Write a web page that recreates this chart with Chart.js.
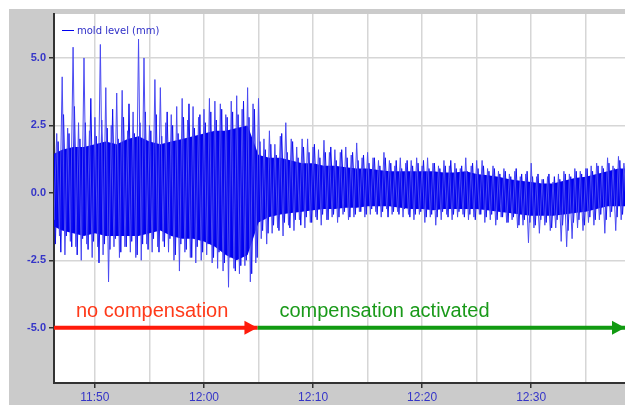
<!DOCTYPE html>
<html>
<head>
<meta charset="utf-8">
<script src="https://cdn.jsdelivr.net/npm/chart.js@4.4.0/dist/chart.umd.min.js"></script>
<style>
  html, body { margin: 0; padding: 0; background: #fff; }
  #wrap { position: absolute; left: 9px; top: 9px; width: 616px; height: 396px; background: #cbcbcb; }
  canvas { display: block; }
</style>
</head>
<body>
<div id="wrap"><canvas id="chart" width="616" height="396"></canvas></div>
<script>
// time axis in minutes after 11:00
const axisStart = 46.25;
const axisEnd = 98.6;
const tickMinutes = [50, 55, 60, 65, 70, 75, 80, 85, 90, 95];
const levelTicks = [-5, -2.5, 0, 2.5, 5];

// spike envelope, one peak every half minute from 11:46, trough a quarter minute later
const sampleStart = 46;
const sampleStep = 0.5;
const peaks = [
  1.0, 2.2, 4.3, 2.4, 5.4, 2.6, 5.0, 2.3, 2.8, 5.5,
  3.9, 2.5, 3.7, 3.8, 2.3, 3.0, 5.7, 5.0, 2.5, 4.2,
  3.9, 2.6, 2.9, 3.2, 3.5, 2.7, 3.2, 2.8, 3.1, 3.5,
  3.4, 3.3, 2.9, 3.4, 3.6, 3.1, 3.9, 3.3, 3.5, 2.0,
  2.3, 1.8, 2.1, 2.6, 2.0, 1.7, 2.0, 2.0, 1.7, 1.6,
  1.95, 1.5, 1.6, 1.5, 1.7, 1.4, 1.85, 1.3, 1.5, 1.3,
  1.2, 1.5, 1.2, 1.0, 1.3, 1.1, 1.2, 1.3, 1.0, 1.3,
  1.1, 1.0, 1.2, 1.0, 1.1, 0.9, 1.3, 1.0, 1.2, 1.2,
  0.9, 1.0, 0.8, 0.9, 0.7, 0.8, 0.6, 0.7, 1.1, 0.6,
  0.5, 0.6, 0.4, 0.7, 0.8, 0.7, 0.9, 0.8, 0.9, 1.0,
  1.1, 1.0, 1.3, 1.0, 1.35, 1.1, 1.2
];
const troughs = [
  -1.0, -1.6, -2.3, -1.8, -2.0, -2.5, -1.9, -2.4, -2.0, -2.3,
  -3.3, -2.0, -2.4, -2.0, -2.2, -2.4, -2.5, -1.9, -2.2, -2.0,
  -1.8, -2.2, -2.5, -2.9, -2.2, -2.4, -2.6, -2.5, -2.3, -2.6,
  -2.8, -2.9, -3.5, -2.8, -3.0, -2.7, -3.3, -2.6, -1.7, -1.9,
  -1.5, -1.3, -1.6, -1.2, -1.4, -1.0, -1.3, -1.1, -0.9, -1.2,
  -1.0, -0.9, -1.1, -0.8, -1.0, -0.9, -0.7, -0.9, -0.8, -0.7,
  -0.9, -0.6, -0.8, -0.7, -0.9, -0.8, -1.0, -0.8, -1.1, -0.9,
  -1.2, -1.0, -0.8, -1.0, -0.9, -0.8, -1.0, -0.9, -0.8, -1.1,
  -1.0, -1.2, -0.9, -1.1, -1.0, -1.3, -1.2, -1.85, -1.3, -1.5,
  -1.2, -1.4, -1.3, -1.8, -2.0, -1.7, -1.3, -1.4, -1.1, -1.2,
  -1.0, -1.5, -0.9, -1.4, -1.0, -0.8, -0.9
];

// smaller swings in between the big ones (an eighth of a minute after each peak)
const midPeaks = [
  2.4, 1.9, 2.9, 2.2, 3.2, 2.0, 2.6, 3.5, 2.1, 2.7,
  2.4, 3.1, 2.0, 2.8, 3.3, 2.2, 2.6, 3.0, 2.3, 2.9,
  2.1, 3.0, 2.5, 2.2, 2.8, 3.3, 2.4, 2.9, 2.6, 3.0,
  2.7, 3.1, 2.8, 3.0, 2.9, 3.4, 2.8, 3.1, 1.9, 1.6,
  1.8, 1.4, 2.2, 1.5, 1.9, 1.3, 1.7, 1.5, 1.8, 1.3,
  1.5, 1.7, 1.2, 1.6, 1.3, 1.5, 1.2, 1.4, 1.1, 1.3,
  1.0, 1.3, 1.1, 1.2, 0.9, 1.2, 1.0, 1.1, 1.2, 0.9,
  1.1, 0.9, 1.0, 1.2, 0.9, 1.0, 0.8, 1.1, 0.9, 1.0,
  0.8, 0.9, 0.7, 0.8, 0.6, 0.9, 0.7, 0.8, 0.6, 0.7,
  0.5, 0.7, 0.6, 0.5, 0.7, 0.6, 0.8, 0.7, 0.9, 0.8,
  1.0, 0.9, 1.1, 0.9, 1.2, 1.0, 1.1
];
const midTroughs = [
  -1.9, -2.2, -1.6, -2.0, -2.3, -1.7, -2.1, -1.8, -2.6, -1.9,
  -2.1, -1.7, -2.2, -2.0, -1.8, -2.3, -1.9, -2.1, -1.7, -2.2,
  -2.0, -1.7, -2.3, -1.9, -2.1, -2.4, -2.0, -2.2, -1.9, -2.4,
  -2.2, -2.6, -2.4, -2.9, -2.7, -2.5, -3.0, -2.4, -1.4, -1.5,
  -1.2, -1.4, -1.1, -1.3, -1.0, -1.2, -0.9, -1.1, -1.0, -0.8,
  -1.0, -0.8, -0.9, -0.7, -0.9, -0.8, -0.7, -0.8, -0.6, -0.8,
  -0.7, -0.9, -0.7, -0.8, -0.6, -0.9, -0.8, -0.7, -0.9, -0.8,
  -0.9, -0.7, -0.9, -0.8, -0.7, -0.9, -0.8, -1.0, -0.8, -0.9,
  -0.8, -1.0, -0.9, -1.1, -0.9, -1.2, -1.0, -1.1, -1.2, -1.0,
  -1.1, -1.3, -1.0, -1.2, -1.4, -1.1, -1.0, -1.2, -0.9, -1.0,
  -0.8, -1.0, -0.7, -0.9, -0.8, -0.6, -0.7
];

// dense core of the signal, one value per minute from 11:46
const coreStart = 46;
const coreTop = [
  1.4, 1.6, 1.7, 1.7, 1.8, 1.9, 1.8, 2.0, 2.1, 1.9,
  1.8, 1.9, 2.0, 2.1, 2.2, 2.3, 2.3, 2.4, 2.5, 1.4,
  1.3, 1.3, 1.2, 1.1, 1.1, 1.0, 1.0, 0.95, 0.9, 0.9,
  0.85, 0.8, 0.8, 0.8, 0.8, 0.8, 0.75, 0.75, 0.8, 0.7,
  0.65, 0.6, 0.5, 0.45, 0.4, 0.35, 0.35, 0.45, 0.55, 0.6,
  0.7, 0.8, 0.9, 0.9
];
const coreBottom = [
  -1.2, -1.4, -1.5, -1.6, -1.5, -1.6, -1.6, -1.6, -1.6, -1.5,
  -1.4, -1.6, -1.7, -1.7, -1.8, -2.0, -2.3, -2.5, -2.3, -1.1,
  -0.9, -0.8, -0.75, -0.7, -0.65, -0.6, -0.6, -0.55, -0.55, -0.5,
  -0.5, -0.5, -0.55, -0.6, -0.6, -0.65, -0.6, -0.6, -0.6, -0.6,
  -0.65, -0.7, -0.75, -0.8, -0.85, -0.85, -0.85, -0.8, -0.75, -0.7,
  -0.6, -0.5, -0.5, -0.5
];

// phases shown as arrows at level -5
const phaseLabels = ['no compensation', 'compensation activated'];
const phaseStart = [46.25, 64.9];
const phaseEnd = [64.9, 98.6];
const phaseLevel = -5;
const phaseColors = ['#ff1a0a', '#119a11'];
const phaseTextColors = ['#ff3a1a', '#1a9a1a'];

const signalBlue = '#0000f0';
const tickBlue = '#3535c8';

function hhmm(m) {
  const h = 11 + Math.floor(m / 60);
  const mm = m % 60;
  return h + ':' + String(mm).padStart(2, '0');
}

function zigzag(highs, lows, offset) {
  const pts = [];
  highs.forEach((h, i) => {
    const t = sampleStart + offset + i * sampleStep;
    pts.push({ x: t, y: h });
    pts.push({ x: t + sampleStep / 2, y: lows[i] });
  });
  return pts;
}

const spikeData = zigzag(peaks, troughs, 0);
const midData = zigzag(midPeaks, midTroughs, sampleStep / 4);
const topData = coreTop.map((v, i) => ({ x: coreStart + i, y: v }));
const bottomData = coreBottom.map((v, i) => ({ x: coreStart + i, y: v }));

const phaseSets = phaseLabels.map((label, i) => ({
  label: label,
  data: [{ x: phaseStart[i], y: phaseLevel }, { x: phaseEnd[i], y: phaseLevel }],
  borderColor: phaseColors[i],
  borderWidth: 4,
  pointRadius: 0,
  fill: false
}));

const overlay = {
  id: 'overlay',
  afterDatasetsDraw(chart) {
    const ctx = chart.ctx;
    const xs = chart.scales.x, ys = chart.scales.y;
    const area = chart.chartArea;
    ctx.save();
    ctx.beginPath();
    ctx.rect(area.left, area.top, area.right - area.left, area.bottom - area.top);
    ctx.clip();
    const yy = ys.getPixelForValue(phaseLevel);
    phaseLabels.forEach((label, i) => {
      const xe = xs.getPixelForValue(phaseEnd[i]);
      ctx.fillStyle = phaseColors[i];
      ctx.beginPath();
      ctx.moveTo(xe, yy);
      ctx.lineTo(xe - 13, yy - 7);
      ctx.lineTo(xe - 13, yy + 7);
      ctx.closePath();
      ctx.fill();
      const xsPix = xs.getPixelForValue(phaseStart[i]);
      ctx.font = '20px "Liberation Sans", Arial, sans-serif';
      ctx.fillStyle = phaseTextColors[i];
      ctx.textAlign = 'left';
      ctx.textBaseline = 'alphabetic';
      ctx.fillText(label, xsPix + 22, yy - 11);
    });
    // legend in the top-left corner
    const lx = area.left + 8, ly = area.top + 16;
    ctx.strokeStyle = signalBlue;
    ctx.lineWidth = 1;
    ctx.beginPath();
    ctx.moveTo(lx, ly + 0.5);
    ctx.lineTo(lx + 12, ly + 0.5);
    ctx.stroke();
    ctx.font = '10px "DejaVu Sans", Verdana, sans-serif';
    ctx.fillStyle = '#3030c8';
    ctx.textBaseline = 'middle';
    ctx.fillText(chart.data.datasets[0].label, lx + 15, ly + 1);
    ctx.restore();
  },
  beforeDraw(chart) {
    const a = chart.chartArea;
    chart.ctx.save();
    chart.ctx.fillStyle = '#ffffff';
    chart.ctx.fillRect(a.left, a.top, a.right - a.left, a.bottom - a.top);
    chart.ctx.restore();
  }
};

new Chart(document.getElementById('chart'), {
  type: 'line',
  data: {
    datasets: [
      {
        label: 'mold level (mm)',
        data: spikeData,
        borderColor: '#4a4af2',
        borderWidth: 1,
        pointRadius: 0,
        tension: 0,
        fill: false
      },
      {
        label: 'mold level detail',
        data: midData,
        borderColor: '#1010f0',
        borderWidth: 1,
        pointRadius: 0,
        tension: 0,
        fill: false
      },
      {
        label: 'core top',
        data: topData,
        borderWidth: 0,
        borderColor: 'rgba(0,0,0,0)',
        backgroundColor: signalBlue,
        pointRadius: 0,
        fill: '+1'
      },
      {
        label: 'core bottom',
        data: bottomData,
        borderWidth: 0,
        borderColor: 'rgba(0,0,0,0)',
        pointRadius: 0,
        fill: false
      },
      ...phaseSets
    ]
  },
  options: {
    responsive: false,
    animation: false,
    layout: { padding: { top: 5, right: 0, left: 0, bottom: 0 } },
    plugins: { legend: { display: false }, tooltip: { enabled: false } },
    scales: {
      x: {
        type: 'linear',
        min: axisStart,
        max: axisEnd,
        afterBuildTicks: s => { s.ticks = tickMinutes.map(v => ({ value: v })); },
        afterFit: s => { s.height = 22; s.paddingLeft = 0; s.paddingRight = 0; },
        ticks: {
          autoSkip: false,
          maxRotation: 0,
          padding: 2,
          color: tickBlue,
          font: { family: '"Liberation Sans", Arial, sans-serif', size: 12 },
          callback: v => (v % 10 === 0 ? hhmm(v) : '')
        },
        grid: {
          color: '#d6d6d6',
          lineWidth: 1.5,
          tickLength: 5,
          tickColor: c => (c.tick && c.tick.value % 10 === 0 ? '#333333' : 'rgba(0,0,0,0)')
        },
        border: { color: '#333333', width: 2 }
      },
      y: {
        min: -7.05,
        max: 6.63,
        afterBuildTicks: s => { s.ticks = levelTicks.map(v => ({ value: v })); },
        afterFit: s => { s.width = 45; s.paddingTop = 0; s.paddingBottom = 0; },
        ticks: {
          padding: 3,
          color: tickBlue,
          font: { family: '"Liberation Sans", Arial, sans-serif', size: 11, weight: 'bold' },
          callback: v => v.toFixed(1)
        },
        grid: { color: '#d6d6d6', lineWidth: 1.5, tickLength: 5, tickColor: '#333333' },
        border: { color: '#333333', width: 2 }
      }
    }
  },
  plugins: [overlay]
});
</script>
</body>
</html>
